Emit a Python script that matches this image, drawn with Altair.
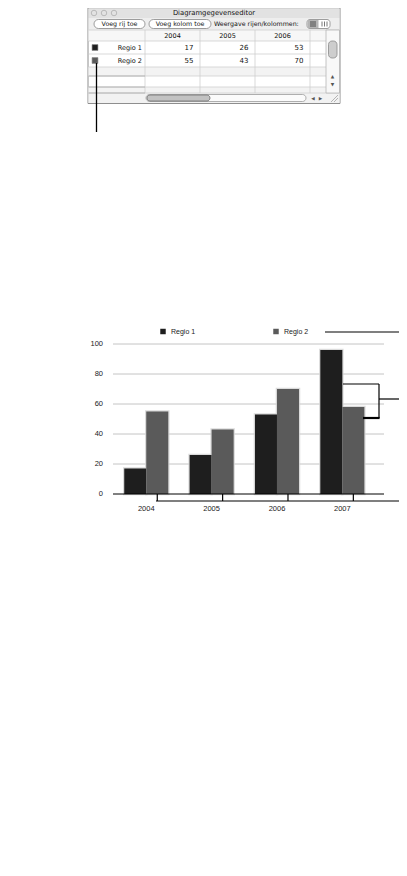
import altair as alt
import pandas as pd

# ---------------- data ----------------
years = ["2004", "2005", "2006", "2007"]
series = ["Regio 1", "Regio 2"]
regio1 = [17, 26, 53, 96]
regio2 = [55, 43, 70, 58]
y_ticks = [0, 20, 40, 60, 80, 100]
series_colors = ["#1e1e1e", "#5a5a5a"]
editor_title = "Diagramgegevenseditor"
button_labels = ["Voeg rij toe", "Voeg kolom toe"]
view_label = "Weergave rijen/kolommen:"
editor_years = years[:3]

W, H = 391, 860
FONT = "Liberation Sans"
UI = "DejaVu Sans"


def PX():
    return alt.Scale(domain=[8, 8 + W], range=[0, W])


def PY():
    return alt.Scale(domain=[8, 8 + H], range=[0, H])


def BX():
    return alt.Scale(domain=years, range=[105.6, 367], paddingInner=0.3265, paddingOuter=0.163)


def BY():
    return alt.Scale(domain=[0, 100], range=[486, 336])


def OFF():
    return alt.Scale(domain=series, paddingInner=0, paddingOuter=0)


def rect_layer(rows, **mark):
    df = pd.DataFrame(rows, columns=["x", "x2", "y", "y2", "fill", "stroke"])
    return alt.Chart(df).mark_rect(**mark).encode(
        x=alt.X("x:Q", scale=PX(), axis=None), x2="x2",
        y=alt.Y("y:Q", scale=PY(), axis=None), y2="y2",
        fill=alt.Fill("fill:N", scale=None),
        stroke=alt.Stroke("stroke:N", scale=None),
    )


def rule_layer(rows, color="#000000", width=1.0):
    df = pd.DataFrame(rows, columns=["x", "y", "x2", "y2"])
    return alt.Chart(df).mark_rule(color=color, strokeWidth=width).encode(
        x=alt.X("x:Q", scale=PX(), axis=None), x2="x2",
        y=alt.Y("y:Q", scale=PY(), axis=None), y2="y2",
    )


def text_layer(rows, **mark):
    df = pd.DataFrame(rows, columns=["x", "y", "t"])
    return alt.Chart(df).mark_text(**mark).encode(
        x=alt.X("x:Q", scale=PX(), axis=None),
        y=alt.Y("y:Q", scale=PY(), axis=None),
        text="t:N",
    )


layers = []

# ---------------- editor window ----------------
layers.append(rect_layer([
    (88, 340, 8, 103.5, "#ffffff", "#8e8e8e"),
], strokeWidth=1))
layers.append(rect_layer([
    (88.5, 339.5, 8.5, 18, "#e2e2e2", "#e2e2e2"),
    (88.5, 339.5, 18, 30, "#eeeeee", "#eeeeee"),
    (88.5, 326, 30, 41, "#f7f7f7", "#f7f7f7"),
    (88.5, 326, 67, 76, "#f3f3f3", "#f3f3f3"),
    (88.5, 326, 87, 93, "#f3f3f3", "#f3f3f3"),
    (88.5, 339.5, 93, 103, "#f2f2f2", "#f2f2f2"),
], strokeWidth=0))
layers.append(rule_layer([
    (88.5, 30, 339.5, 30), (88.5, 41, 326, 41), (88.5, 54, 326, 54),
    (88.5, 67, 326, 67), (88.5, 76, 326, 76), (88.5, 87, 326, 87),
    (88.5, 93, 339.5, 93),
    (145, 30, 145, 93), (200, 30, 200, 93), (255, 30, 255, 93), (310, 30, 310, 93),
], color="#cfcfcf", width=0.8))
layers.append(rule_layer([
    (88.5, 76, 145, 76), (88.5, 87, 145, 87), (88.5, 93, 145, 93),
], color="#a8a8a8", width=0.8))
# vertical scrollbar
layers.append(rect_layer([(326, 339.5, 30, 93, "#f8f8f8", "#b5b5b5")], strokeWidth=0.8))
layers.append(rect_layer([
    (328.5, 337, 41, 58, "#cdcdcd", "#8a8a8a"),
    (146, 306, 94.5, 101.5, "#fbfbfb", "#9a9a9a"),
], strokeWidth=0.8, cornerRadius=3.5))
layers.append(rect_layer([(147, 210, 95, 101, "#c2c2c2", "#6e6e6e")], strokeWidth=0.8, cornerRadius=3))
layers.append(text_layer([
    (332.5, 76.5, "▲"), (332.5, 84.5, "▼"), (313, 98.5, "◀"), (320.5, 98.5, "▶"),
], font=UI, fontSize=4.5, color="#555555", baseline="middle"))
layers.append(rule_layer([
    (331, 102, 338, 95), (334, 102, 338, 98),
], color="#9a9a9a", width=0.7))

# title bar
layers.append(alt.Chart(pd.DataFrame({"x": [94, 104, 114], "y": [13, 13, 13]})).mark_point(
    shape="circle", filled=False, size=30, color="#9a9a9a", strokeWidth=0.8).encode(
    x=alt.X("x:Q", scale=PX(), axis=None), y=alt.Y("y:Q", scale=PY(), axis=None)))
layers.append(text_layer([(214, 13.3, editor_title)], font=UI, fontSize=6.8, color="#111111",
                         baseline="middle", align="center"))

# toolbar
layers.append(rect_layer([
    (94, 145, 19.5, 28.5, "#ffffff", "#858585"),
    (149, 211, 19.5, 28.5, "#ffffff", "#858585"),
], strokeWidth=0.8, cornerRadius=4.5))
layers.append(text_layer([
    (119.5, 24.2, button_labels[0]), (180, 24.2, button_labels[1]),
], font=UI, fontSize=6.3, color="#111111", baseline="middle", align="center"))
layers.append(text_layer([(214, 24.2, view_label)], font=UI, fontSize=6.3, color="#111111",
                         baseline="middle", align="left"))
layers.append(rect_layer([(307, 330, 19.5, 28.5, "#ffffff", "#858585")], strokeWidth=0.8, cornerRadius=3))
layers.append(rect_layer([(307.5, 318.5, 20, 28, "#b5b5b5", "#b5b5b5")], strokeWidth=0))
layers.append(rule_layer([
    (310, 22, 316, 22), (310, 24, 316, 24), (310, 26, 316, 26),
], color="#333333", width=0.8))
layers.append(rule_layer([
    (322, 21.5, 322, 26.5), (324.5, 21.5, 324.5, 26.5), (327, 21.5, 327, 26.5),
], color="#555555", width=0.8))

# table contents (through band scales)
cells = pd.DataFrame([
    {"series": s, "year": y, "value": v}
    for s, vals in zip(series, [regio1, regio2])
    for y, v in zip(editor_years, vals[: len(editor_years)])
])


def EX():
    return alt.Scale(domain=editor_years, range=[137, 302], paddingInner=0, paddingOuter=0)


def EY():
    return alt.Scale(domain=series, range=[33, 59], paddingInner=0, paddingOuter=0)


layers.append(alt.Chart(pd.DataFrame({"year": editor_years})).mark_text(
    font=UI, fontSize=6.5, color="#111111", baseline="middle").encode(
    x=alt.X("year:N", scale=EX(), axis=None), y=alt.value(27.5), text="year:N"))
layers.append(alt.Chart(cells).mark_text(
    font=UI, fontSize=7, color="#111111", baseline="middle", align="right", dx=21).encode(
    x=alt.X("year:N", scale=EX(), axis=None), y=alt.Y("series:N", scale=EY(), axis=None),
    text="value:Q"))
layers.append(alt.Chart(pd.DataFrame({"series": series})).mark_text(
    font=UI, fontSize=6.5, color="#111111", baseline="middle", align="right").encode(
    x=alt.value(134), y=alt.Y("series:N", scale=EY(), axis=None), text="series:N"))
layers.append(alt.Chart(pd.DataFrame({"series": series})).mark_square(
    size=34, opacity=1, stroke="#808080", strokeWidth=0.6).encode(
    x=alt.value(87), y=alt.Y("series:N", scale=EY(), axis=None),
    color=alt.Color("series:N", scale=alt.Scale(domain=series, range=series_colors), legend=None)))

# pointer from swatch
layers.append(rule_layer([(96.5, 63, 96.5, 132)], width=1.3))

# ---------------- bar chart ----------------
bars_df = pd.DataFrame([
    {"year": y, "series": s, "value": v}
    for s, vals in zip(series, [regio1, regio2])
    for y, v in zip(years, vals)
])
ticks_df = pd.DataFrame({"v": y_ticks})

layers.append(alt.Chart(ticks_df).transform_filter("datum.v > 0").mark_rule(
    color="#c4c4c4", strokeWidth=1).encode(
    y=alt.Y("v:Q", scale=BY(), axis=None), x=alt.value(105), x2=alt.value(376)))
# soft shadow halo behind bars
layers.append(alt.Chart(bars_df).mark_bar(
    color="#d2d2d2", stroke="#d2d2d2", strokeWidth=2.5, strokeOpacity=0.8).encode(
    x=alt.X("year:N", scale=BX(), axis=None),
    xOffset=alt.XOffset("series:N", scale=OFF()),
    y=alt.Y("value:Q", scale=BY(), axis=None)))
layers.append(alt.Chart(bars_df).mark_bar().encode(
    x=alt.X("year:N", scale=BX(), axis=None),
    xOffset=alt.XOffset("series:N", scale=OFF()),
    y=alt.Y("value:Q", scale=BY(), axis=None),
    color=alt.Color("series:N", scale=alt.Scale(domain=series, range=series_colors), legend=None)))
layers.append(alt.Chart(ticks_df).transform_filter("datum.v == 0").mark_rule(
    color="#000000", strokeWidth=1).encode(
    y=alt.Y("v:Q", scale=BY(), axis=None), x=alt.value(105), x2=alt.value(376)))
layers.append(alt.Chart(ticks_df).mark_text(
    align="right", baseline="middle", font=FONT, fontSize=7.5, color="#222222").encode(
    y=alt.Y("v:Q", scale=BY(), axis=None), x=alt.value(95), text="v:Q"))
layers.append(alt.Chart(pd.DataFrame({"year": years})).mark_text(
    baseline="middle", font=FONT, fontSize=7.5, color="#222222").encode(
    x=alt.X("year:N", scale=BX(), axis=None), y=alt.value(501), text="year:N"))

# legend
LEGX = alt.Scale(type="point", domain=series, range=[155, 268], padding=0)
layers.append(alt.Chart(pd.DataFrame({"series": series})).mark_square(size=30, opacity=1).encode(
    x=alt.X("series:N", scale=LEGX, axis=None), y=alt.value(323.5),
    color=alt.Color("series:N", scale=alt.Scale(domain=series, range=series_colors), legend=None)))
layers.append(alt.Chart(pd.DataFrame({"series": series})).mark_text(
    align="left", baseline="middle", dx=8, font=FONT, fontSize=7, color="#222222").encode(
    x=alt.X("series:N", scale=LEGX, axis=None), y=alt.value(323.5), text="series:N"))

# callout lines
layers.append(alt.Chart(bars_df).transform_filter("datum.series == 'Regio 2'").mark_rule(
    color="#000000", strokeWidth=1.2).encode(
    x=alt.X("year:N", scale=BX(), axis=None),
    xOffset=alt.XOffset("series:N", scale=OFF()),
    y=alt.value(486), y2=alt.value(493)))
layers.append(rule_layer([
    (156, 501, 399, 501),
    (325, 332, 399, 332),
    (343, 384, 379, 384),
    (379, 384, 379, 418),
    (379, 399, 399, 399),
], width=1.2))
layers.append(rule_layer([(363, 418, 379.6, 418)], width=2.2))

chart = alt.layer(*layers).resolve_scale(
    x="independent", y="independent", color="independent", xOffset="independent"
).properties(
    width=W, height=H, padding=0, autosize=alt.AutoSizeParams(type="none")
).configure_view(stroke=None)

chart.save("out.html", embed_options={"renderer": "svg", "actions": False})
